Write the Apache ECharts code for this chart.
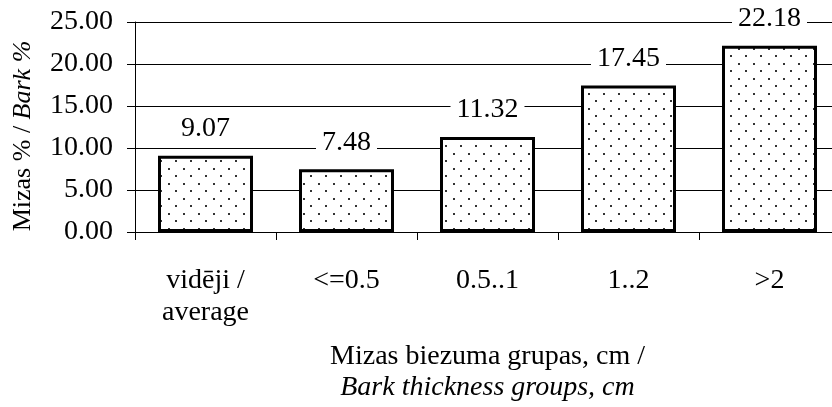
<!DOCTYPE html>
<html>
<head>
<meta charset="utf-8">
<script src="https://cdn.jsdelivr.net/npm/echarts@6/dist/echarts.min.js"></script>
<style>
  html, body { margin: 0; padding: 0; background: #fff; }
  #chart { width: 832px; height: 407px; }
</style>
</head>
<body>
<div id="chart"></div>
<script>
const categories = ['vidēji /\naverage', '<=0.5', '0.5..1', '1..2', '>2'];
const barkPercent = [9.07, 7.48, 11.32, 17.45, 22.18];
const yTicks = [0, 5, 10, 15, 20, 25];

// dotted fill like the old excel pattern
function dotPattern() {
  const c = document.createElement('canvas');
  c.width = 15;
  c.height = 15;
  const ctx = c.getContext('2d');
  ctx.fillStyle = '#fff';
  ctx.fillRect(0, 0, 15, 15);
  ctx.fillStyle = '#333';
  ctx.fillRect(3, 3, 2, 2);
  ctx.fillRect(10, 10, 2, 2);
  return c;
}

const font = 'Liberation Serif';
const chart = echarts.init(document.getElementById('chart'));

chart.setOption({
  animation: false,
  grid: {
    left: 135,
    top: 22,
    width: 705,
    height: 210,
    outerBoundsMode: 'none'
  },
  xAxis: {
    type: 'category',
    data: categories,
    name: 'Mizas biezuma grupas, cm /\n{i|Bark thickness groups, cm}',
    nameLocation: 'middle',
    nameGap: 109,
    nameTextStyle: {
      fontFamily: font,
      fontSize: 28,
      color: '#000',
      lineHeight: 31,
      rich: { i: { fontFamily: font, fontSize: 28, fontStyle: 'italic', color: '#000', lineHeight: 31 } }
    },
    axisLine: { lineStyle: { color: '#000', width: 1 } },
    axisTick: { show: true, length: 8, lineStyle: { color: '#000' } },
    axisLabel: {
      fontFamily: font,
      fontSize: 28,
      color: '#000',
      margin: 33,
      lineHeight: 32
    }
  },
  yAxis: {
    type: 'value',
    min: 0,
    max: 25,
    interval: 5,
    name: 'Mizas % / {i|Bark %}',
    nameLocation: 'middle',
    nameGap: 99,
    nameTextStyle: {
      fontFamily: font,
      fontSize: 26,
      color: '#000',
      padding: [0, 18, 0, 0],
      rich: { i: { fontFamily: font, fontSize: 26, fontStyle: 'italic', color: '#000' } }
    },
    axisLine: { show: true, lineStyle: { color: '#000' } },
    axisTick: { show: true, length: 8, lineStyle: { color: '#000' } },
    axisLabel: {
      fontFamily: font,
      fontSize: 28,
      color: '#000',
      margin: 22,
      formatter: v => yTicks.includes(v) ? v.toFixed(2) : ''
    },
    splitLine: { lineStyle: { color: '#000', width: 1 } }
  },
  series: [{
    type: 'bar',
    data: barkPercent,
    barWidth: 95,
    itemStyle: {
      color: { image: dotPattern(), repeat: 'repeat' },
      borderColor: '#000',
      borderWidth: 3
    },
    label: {
      show: true,
      position: 'top',
      distance: 13,
      fontFamily: font,
      fontSize: 28,
      color: '#000',
      backgroundColor: '#fff',
      padding: [0, 6],
      formatter: p => p.value.toFixed(2)
    }
  }]
});
</script>
</body>
</html>
